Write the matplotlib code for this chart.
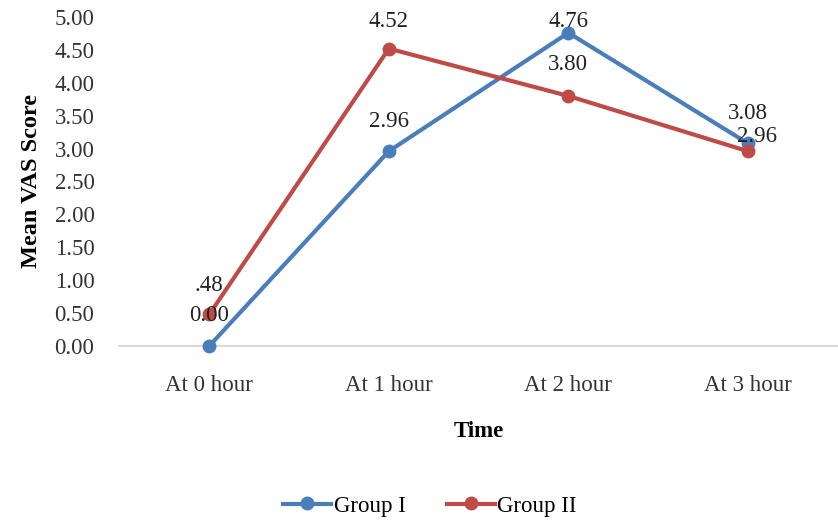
import matplotlib.pyplot as plt

# data
times = ['At 0 hour', 'At 1 hour', 'At 2 hour', 'At 3 hour']
group1 = [0.00, 2.96, 4.76, 3.08]
group2 = [0.48, 4.52, 3.80, 2.96]
labels1 = ['0.00', '2.96', '4.76', '3.08']
labels2 = ['.48', '4.52', '3.80', '2.96']

blue = '#4a7ebb'
red = '#be4b48'

plt.rcParams['font.family'] = ['Liberation Serif', 'DejaVu Serif']
fs = 16.5

fig = plt.figure(figsize=(8.38, 5.25), dpi=100)
ax = fig.add_axes([0.1426, 0.341, 0.857, 0.6266])

x = range(len(times))
ax.plot(x, group1, color=blue, lw=3, marker='o', ms=9, label='Group I', clip_on=False, zorder=3)
ax.plot(x, group2, color=red, lw=3, marker='o', ms=9, label='Group II', clip_on=False, zorder=3)

# label offsets in pixels (dx, dy)
off1 = [(0, 30), (0, 30), (0, 11), (0, 30)]
off2 = [(0, 29), (0, 27), (0, 31), (9, 15)]
for i in x:
    ax.annotate(labels1[i], (i, group1[i]), xytext=off1[i], textcoords='offset pixels',
                ha='center', va='center', fontsize=fs, color='#222222', zorder=4)
    ax.annotate(labels2[i], (i, group2[i]), xytext=off2[i], textcoords='offset pixels',
                ha='center', va='center', fontsize=fs, color='#222222', zorder=4)

ax.set_xlim(-0.5, 3.5)
ax.set_ylim(0, 5)
ax.set_yticks([i * 0.5 for i in range(11)])
ax.set_yticklabels(['%.2f' % (i * 0.5) for i in range(11)])
ax.set_xticks(list(x))
ax.set_xticklabels(times)
ax.tick_params(axis='both', length=0, labelsize=fs, colors='#333333')
ax.tick_params(axis='x', pad=21)
ax.tick_params(axis='y', pad=18)

for s in ['top', 'right', 'left']:
    ax.spines[s].set_visible(False)
ax.spines['bottom'].set_color('#d9d9d9')
ax.spines['bottom'].set_linewidth(1.5)

ax.set_ylabel('Mean VAS Score', fontsize=17.5, fontweight='bold', labelpad=9)
ax.set_xlabel('Time', fontsize=fs, fontweight='bold', labelpad=18)

fig.legend(loc='center', bbox_to_anchor=(430 / 838, 1 - 506 / 525), ncol=2, frameon=False,
           fontsize=fs, handlelength=2.1, columnspacing=1.8, handletextpad=0.1)

fig.savefig('out.png', dpi=100)
